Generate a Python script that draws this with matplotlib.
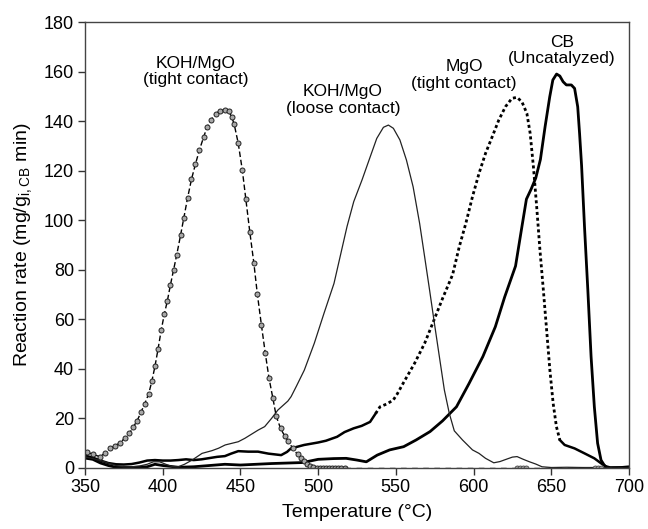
import matplotlib
matplotlib.use("Agg")
import matplotlib.pyplot as plt

plt.rcParams['font.family'] = ['Liberation Sans', 'DejaVu Sans']
plt.rcParams['mathtext.fontset'] = 'custom'
plt.rcParams['mathtext.rm'] = 'Liberation Sans'

# KOH/MgO tight contact (dashed with circle markers)
tight_T = [351, 355, 359.5, 363, 366, 369, 372.3, 375.5, 378.6, 381, 383.5, 386, 388.5, 391,
           393, 395, 397, 399, 401, 403, 405, 407, 409, 411.5, 413.6, 416, 418.5, 421, 423.6,
           426.4, 428.5, 431, 434, 437, 440, 442.5, 444.5, 446, 448.6, 451.2, 453.5, 456,
           458.6, 460.9, 463.5, 466, 468.4, 470.9, 473, 475.8, 478.4, 480.5, 483.6, 486.8,
           489, 491, 493, 495, 497, 499, 501, 503, 505, 507, 509, 511, 513, 515, 517]
tight_R = [6.5, 5.5, 4.6, 6.0, 7.9, 9.0, 10.0, 12.0, 14.0, 16.5, 19.0, 22.5, 26.0, 30.0,
           35.0, 41.0, 48.0, 55.5, 62.0, 67.5, 74.0, 80.0, 86.0, 94.0, 101.0, 109.0, 116.5,
           122.5, 128.3, 133.7, 137.5, 140.5, 143.0, 144.2, 144.5, 144.0, 141.5, 138.7, 131.0,
           120.3, 108.4, 95.4, 82.9, 70.1, 57.7, 46.3, 36.2, 28.1, 21.0, 16.0, 13.0, 11.0,
           8.0, 5.5, 4.0, 3.0, 1.8, 1.0, 0.3, 0, 0, 0, 0, 0, 0, 0, 0, 0, 0]
tight_tail_T = [517, 700]
tight_tail_R = [0, 0]
tight_extra_T = [628, 630, 632, 634, 678, 680, 682]
tight_extra_R = [0, 0, 0, 0, 0, 0, 0]

# KOH/MgO loose contact (thin solid)
loose_T = [350, 355, 360, 365, 370, 375, 380, 385, 390, 394, 398, 402, 406, 410, 414, 418.9,
           425.3, 431.7, 436, 440.2, 448.6, 452.9, 461.4, 465.6, 470, 474.1, 480.5, 482.6,
           486, 491.1, 497.5, 503.8, 510.2, 514.4, 518.6, 522.9, 528.2, 533.5, 537.7, 542,
           545.2, 548.4, 552.6, 556.8, 561.1, 565.3, 568.5, 571.7, 574.8, 578, 581.2, 584.4,
           587.6, 592.9, 599.3, 603.5, 607.7, 613, 617, 620.5, 625, 628, 632, 636, 640, 644,
           650, 660, 670, 680, 690, 700]
loose_R = [4.5, 3.8, 3.0, 2.0, 1.0, 0.5, 0.5, 0.8, 1.5, 2.5, 2.5, 1.5, 0.6, 0.5, 1.5, 3.2,
           5.9, 7.0, 8.0, 9.3, 10.6, 12.0, 15.3, 16.7, 20.0, 23.4, 27.0, 28.8, 33.0, 39.5,
           50.3, 62.5, 74.5, 86.0, 97.5, 107.5, 116.2, 125.6, 133.0, 137.5, 138.4, 137.1,
           132.4, 124.3, 113.5, 98.7, 85.3, 71.8, 58.4, 44.9, 31.5, 22.0, 15.0, 11.3, 7.3,
           5.9, 3.9, 2.1, 2.6, 3.4, 4.4, 4.6, 3.5, 2.5, 1.6, 0.5, 0.2, 0.3, 0.2, 0.2, 0, 0]

# MgO tight contact (thick dotted)
mgo_T = [350, 355, 360, 365, 370, 375, 380, 385, 390, 395, 400, 405, 410, 415, 420, 425,
         430, 435, 440, 444, 448.6, 455, 461.3, 468, 476.2, 480, 482.5, 491, 500, 505,
         512.2, 517, 522.8, 528, 533.4, 537, 539.8, 544, 548.3, 551, 554.7, 562, 568.5,
         573.7, 580.1, 586.5, 590.8, 595, 599.3, 603.5, 607.7, 612, 616.2, 620.5, 624.7,
         627.9, 631.1, 634.3, 636.4, 638.5, 640.6, 642.7, 644.9, 647, 649.1, 651.2, 653.3,
         655.5, 658.6, 665, 671.4, 677.7, 682, 685, 688, 700]
mgo_R = [5.0, 4.2, 3.0, 2.0, 1.5, 1.4, 1.6, 2.2, 3.0, 3.2, 3.0, 3.0, 3.2, 3.5, 3.2, 3.5,
         4.0, 4.5, 4.8, 5.8, 6.8, 6.6, 6.6, 5.8, 5.2, 6.5, 7.9, 9.3, 10.3, 11.0, 12.6, 14.5,
         16.0, 17.0, 18.6, 22.0, 24.7, 25.8, 27.4, 30.0, 34.2, 42.2, 50.3, 58.4, 68.5, 78.0,
         89.3, 98.7, 109.5, 118.9, 127.0, 133.7, 140.4, 145.8, 149.2, 149.6, 147.8, 143.1,
         135.1, 121.6, 105.5, 88.0, 71.8, 55.7, 39.5, 26.1, 16.7, 11.3, 9.3, 7.9, 5.9, 3.9,
         1.9, 0.7, 0.2, 0.2]

# CB uncatalyzed (thick solid)
cb_T = [350, 355, 360, 365, 370, 380, 390, 395, 400, 410, 420, 430, 440, 450, 460, 470,
        480, 490, 500, 510, 518, 525, 531, 538, 546, 555, 563, 572, 580, 589, 597, 606,
        614, 620, 627, 631, 634, 637, 640, 643, 646, 649, 651, 653.4, 655.5, 657.6, 659.7,
        662.9, 665, 667, 668.2, 669.5, 671.4, 673.5, 675.6, 677.7, 679.8, 682, 684, 686,
        695, 700]
cb_R = [4.0, 3.5, 2.0, 1.0, 0.3, 0.2, 0.5, 1.5, 1.0, 0.3, 0.5, 1.0, 1.5, 1.2, 1.5, 1.8,
        2.0, 2.2, 3.5, 3.8, 3.9, 3.2, 2.5, 5.2, 7.3, 8.6, 11.3, 14.7, 19.0, 24.7, 34.0, 45.0,
        57.0, 69.0, 81.5, 97.0, 108.5, 112.5, 117.0, 124.5, 137.7, 149.8, 156.6, 159.0,
        158.2, 155.9, 154.6, 154.6, 153.2, 145.8, 135.0, 122.0, 97.0, 72.0, 45.0, 24.7,
        10.0, 3.2, 1.2, 0, 0.2, 0.5]

xticks = [350, 400, 450, 500, 550, 600, 650, 700]
yticks = [0, 20, 40, 60, 80, 100, 120, 140, 160, 180]

labels = [
    ("KOH/MgO\n(tight contact)", 421, 160),
    ("KOH/MgO\n(loose contact)", 516, 148.5),
    ("MgO\n(tight contact)", 594, 158.5),
    ("CB\n(Uncatalyzed)", 657, 168.5),
]

fig = plt.figure(figsize=(6.48, 5.29), dpi=100)
ax = fig.add_axes([85 / 648, 61 / 529, 544 / 648, 446 / 529])

# CB
ax.plot(cb_T, cb_R, color='black', lw=2.0, solid_joinstyle='round')

# MgO: solid where flat, dotted in the steep middle part
i0 = mgo_T.index(537)
i1 = mgo_T.index(655.5)
ax.plot(mgo_T[:i0 + 1], mgo_R[:i0 + 1], color='black', lw=1.8)
ax.plot(mgo_T[i0:i1 + 1], mgo_R[i0:i1 + 1], color='black', lw=2.0,
        linestyle=(0, (1.1, 1.0)), dash_capstyle='butt')
ax.plot(mgo_T[i1:], mgo_R[i1:], color='black', lw=1.8)

# Loose contact
ax.plot(loose_T, loose_R, color='#222222', lw=0.9)

# Tight contact
ax.plot(tight_T, tight_R, color='black', lw=1.0, linestyle=(0, (4, 2)),
        marker='o', ms=3.6, mfc='#a8a8a8', mec='#222222', mew=0.7)
ax.plot(tight_tail_T, tight_tail_R, color='black', lw=1.0, linestyle=(0, (4, 4)))
ax.plot(tight_extra_T, tight_extra_R, linestyle='none', marker='o', ms=3.6,
        mfc='#a8a8a8', mec='#444444', mew=0.6)

for txt, x, y in labels:
    ax.text(x, y, txt, ha='center', va='center', fontsize=12.5, linespacing=1.15)

ax.set_xlim(350, 700)
ax.set_ylim(0, 180)
ax.set_xticks(xticks)
ax.set_yticks(yticks)
ax.tick_params(direction='out', length=5, width=1, labelsize=13, color='#333333', pad=3)
for s in ax.spines.values():
    s.set_color('#444444')
    s.set_linewidth(1.0)
ax.set_xlabel('Temperature (\u00b0C)', fontsize=14, labelpad=6)
ax.set_ylabel('Reaction rate (mg/g$_{\\mathregular{i,CB}}$ min)', fontsize=14, labelpad=6)

fig.savefig('out.png', dpi=100)
